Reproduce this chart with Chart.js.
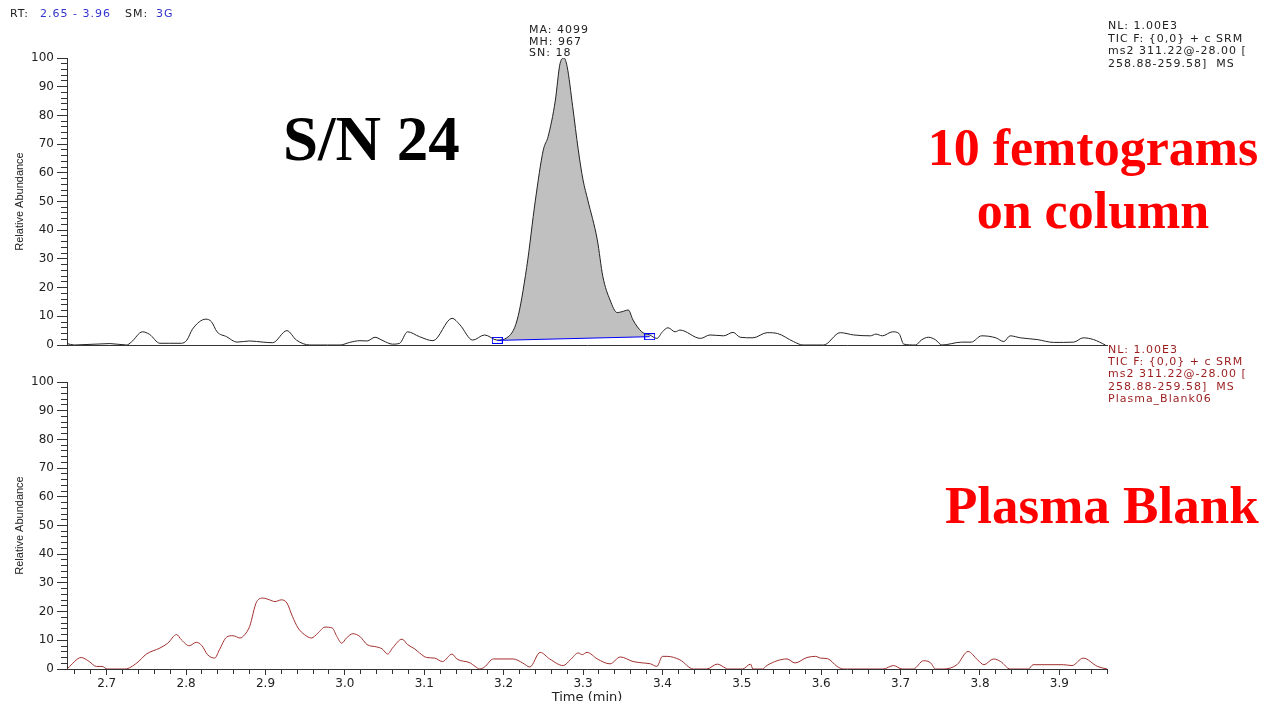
<!DOCTYPE html>
<html>
<head>
<meta charset="utf-8">
<script src="https://cdn.jsdelivr.net/npm/chart.js@4.4.1/dist/chart.umd.min.js"></script>
<style>
  body { margin: 0; width: 1262px; height: 701px; overflow: hidden; background: #fff; position: relative; }
  canvas { position: absolute; left: 0; }
  .small { position: absolute; font: 11px "DejaVu Sans", sans-serif; letter-spacing: 1px; white-space: pre; color: #222; }
  .blue { color: #3333cc; }
  .dred { color: #9a1c1c; }
  .big { position: absolute; font-family: "Liberation Serif", "Times New Roman", serif; font-weight: bold; white-space: pre; }
</style>
</head>
<body>
<canvas id="topChart" width="1262" height="360" style="top:0"></canvas>
<canvas id="botChart" width="1262" height="345" style="top:360px"></canvas>

<div class="small" style="left:10px; top:8px; line-height:12.6px">RT:</div>
<div class="small blue" style="left:40px; top:8px; line-height:12.6px">2.65 - 3.96</div>
<div class="small" style="left:125px; top:8px; line-height:12.6px">SM:</div>
<div class="small blue" style="left:156px; top:8px; line-height:12.6px">3G</div>

<div class="small" style="left:529px; top:24px; line-height:11.5px">MA: 4099
MH: 967
SN: 18</div>

<div class="small" style="left:1108px; top:20px; line-height:12.6px">NL: 1.00E3
TIC F: {0,0} + c SRM
ms2 311.22@-28.00 [
258.88-259.58]  MS</div>

<div class="small dred" style="left:1108px; top:344px; line-height:12.2px">NL: 1.00E3
TIC F: {0,0} + c SRM
ms2 311.22@-28.00 [
258.88-259.58]  MS
Plasma_Blank06</div>

<div class="big" style="left:283px; top:108px; font-size:63px; line-height:63px; color:#000">S/N 24</div>
<div class="big" style="left:893px; width:400px; text-align:center; top:122px; font-size:52px; line-height:52px; color:#ff0000">10 femtograms</div>
<div class="big" style="left:893px; width:400px; text-align:center; top:185px; font-size:52px; line-height:52px; color:#ff0000">on column</div>
<div class="big" style="left:945px; top:479px; font-size:53px; line-height:52px; color:#ff0000">Plasma Blank</div>

<script>
// sample trace: 10 fg on column (time in min, relative abundance %)
const topTime = [
  2.650, 2.659, 2.704, 2.725, 2.731, 2.745, 2.754, 2.767, 2.779, 2.794,
  2.801, 2.808, 2.825, 2.832, 2.839, 2.851, 2.864, 2.880, 2.897, 2.909,
  2.927, 2.939, 2.956, 2.994, 3.006, 3.019, 3.028, 3.038, 3.048, 3.060,
  3.069, 3.079, 3.094, 3.111, 3.135, 3.145, 3.161, 3.176, 3.192, 3.204,
  3.217, 3.229, 3.240, 3.250, 3.256, 3.265, 3.271, 3.276, 3.280, 3.287,
  3.294, 3.300, 3.306, 3.318, 3.325, 3.334, 3.343, 3.349, 3.357, 3.363,
  3.374, 3.384, 3.393, 3.400, 3.407, 3.416, 3.422, 3.448, 3.460, 3.477,
  3.489, 3.498, 3.514, 3.532, 3.545, 3.565, 3.577, 3.603, 3.624, 3.641,
  3.662, 3.669, 3.677, 3.690, 3.698, 3.704, 3.719, 3.726, 3.735, 3.744,
  3.752, 3.777, 3.789, 3.802, 3.820, 3.830, 3.838, 3.851, 3.872, 3.893,
  3.918, 3.930, 3.943, 3.958
];
const topAbund = [
  0.5, 0, 0.5, 0, 1, 4.6, 3.7, 0.6, 0.6, 0.6,
  1.7, 5.5, 9, 8.1, 4.6, 2.9, 1, 1.4, 1, 0.8,
  5, 1.7, 0, 0, 0.9, 1.5, 1.4, 2.7, 1.5, 0.3,
  0.6, 4.6, 2.9, 1.5, 9.3, 7, 1.7, 3.5, 1.7, 2.5,
  8.7, 27, 50.5, 68, 72.6, 85, 98, 100, 97, 83,
  68, 57.5, 50.5, 36.6, 23.8, 15.7, 11.3, 11.6, 12.2, 8.7,
  4.6, 3.5, 2.3, 4.6, 6, 4.6, 5.2, 2.3, 3.5, 3.2,
  4.4, 2.7, 2.5, 4.3, 4, 1.2, 0, 0, 4.3, 3.5,
  3.2, 3.8, 3.2, 4.6, 4, 0.3, 0, 1.7, 2.7, 1.8,
  0, 1, 1, 3.2, 2.5, 1.2, 3.2, 2.5, 1.9, 0.9,
  1, 2.5, 1.9, 0
];

// integration baseline of the peak
const baseTime = [3.192, 3.384];
const baseAbund = [1.6, 2.9];

// plasma blank trace
const blankTime = [
  2.651, 2.668, 2.678, 2.687, 2.694, 2.701, 2.723, 2.738, 2.750, 2.767,
  2.777, 2.788, 2.794, 2.804, 2.813, 2.820, 2.827, 2.836, 2.842, 2.851,
  2.859, 2.868, 2.874, 2.880, 2.889, 2.897, 2.905, 2.912, 2.920, 2.927,
  2.934, 2.941, 2.949, 2.958, 2.966, 2.975, 2.984, 2.990, 2.996, 3.002,
  3.010, 3.019, 3.028, 3.040, 3.047, 3.054, 3.060, 3.072, 3.079, 3.088,
  3.094, 3.103, 3.113, 3.123, 3.135, 3.141, 3.158, 3.164, 3.170, 3.176,
  3.187, 3.212, 3.224, 3.233, 3.246, 3.258, 3.275, 3.284, 3.294, 3.299,
  3.305, 3.318, 3.334, 3.347, 3.363, 3.376, 3.385, 3.393, 3.400, 3.406,
  3.422, 3.439, 3.456, 3.469, 3.479, 3.482, 3.501, 3.511, 3.514, 3.526,
  3.532, 3.557, 3.567, 3.582, 3.593, 3.599, 3.608, 3.620, 3.628, 3.678,
  3.691, 3.702, 3.716, 3.729, 3.738, 3.744, 3.754, 3.771, 3.785, 3.797,
  3.805, 3.817, 3.826, 3.838, 3.861, 3.867, 3.905, 3.916, 3.930, 3.948,
  3.960
];
const blankAbund = [
  0.3, 4, 2.6, 0.9, 0.9, 0, 0, 2.1, 5.2, 7.3,
  9, 12, 10.2, 8.1, 9.3, 8.1, 5, 3.8, 6.7, 11.1,
  11.6, 10.8, 12, 14.8, 23.5, 24.7, 24.1, 23.5, 24.1, 23,
  18.3, 14.3, 12, 10.8, 12.5, 14.6, 14.3, 11.3, 9, 10.8,
  12.3, 11.3, 8.5, 7.7, 7, 5.2, 7.3, 10.4, 8.5, 7,
  5.6, 4, 3.8, 2.6, 5.2, 3.5, 2.1, 0.9, 0, 0.7,
  3.5, 3.5, 2.1, 0.7, 5.8, 3.5, 1.2, 3.2, 5.6, 5,
  5.8, 3.5, 1.8, 4.2, 2.6, 2.1, 1.8, 0.9, 4.4, 4.4,
  3.2, 0, 0, 1.7, 0.4, 0, 0, 1.7, 0, 0,
  1.3, 3.5, 2.1, 4, 4.4, 3.8, 3.6, 0.9, 0, 0,
  1.2, 0, 0, 2.9, 2.1, 0, 0, 1.5, 6.1, 3.2,
  1.5, 3.5, 2.6, 0, 0, 1.5, 1.5, 1.2, 3.8, 0.9,
  0
];

const xMin = 2.65, xMax = 3.96;

function toPoints(xs, ys) {
  return xs.map((x, i) => ({ x: x, y: ys[i] }));
}

// part of the sample trace inside the integration window
const peakPoints = toPoints(topTime, topAbund).filter(p => p.x >= baseTime[0] && p.x <= baseTime[1]);

// small blue box marker for baseline ends
const boxMark = document.createElement('canvas');
boxMark.width = 11; boxMark.height = 7;
(function () {
  const c = boxMark.getContext('2d');
  c.strokeStyle = '#0000ff';
  c.lineWidth = 1;
  c.strokeRect(0.5, 0.5, 10, 6);
})();

const axisColor = '#333';
const tickFont = { family: 'DejaVu Sans', size: 12 };

function yScale() {
  return {
    type: 'linear',
    min: 0,
    max: 100,
    afterFit: s => { s.width = 67; },
    border: { color: axisColor, width: 1 },
    grid: {
      drawOnChartArea: false,
      tickLength: 10,
      tickColor: axisColor,
      // minor ticks: only the inner 6px of the 10px tick
      tickBorderDash: ctx => (ctx.tick && ctx.tick.value % 10 === 0) ? [] : [6, 4],
      tickBorderDashOffset: ctx => (ctx.tick && ctx.tick.value % 10 === 0) ? 0 : 6
    },
    ticks: {
      stepSize: 2,
      autoSkip: false,
      padding: 3,
      color: '#222',
      font: tickFont,
      callback: v => v % 10 === 0 ? v : ''
    },
    title: {
      display: true,
      text: 'Relative Abundance',
      color: '#222',
      font: { family: '"Liberation Sans Narrow", "Liberation Sans", sans-serif', size: 11 },
      padding: { top: 13, bottom: 0 }
    }
  };
}

const baseOptions = {
  responsive: false,
  animation: false,
  devicePixelRatio: 1,
  events: [],
  plugins: { legend: { display: false }, tooltip: { enabled: false } },
  elements: { point: { radius: 0 } }
};

new Chart(document.getElementById('topChart'), {
  type: 'line',
  data: {
    datasets: [
      {
        data: toPoints(topTime, topAbund),
        borderColor: '#222',
        borderWidth: 1,
        cubicInterpolationMode: 'monotone',
        fill: false,
        order: 1
      },
      {
        data: peakPoints,
        borderColor: 'rgba(0,0,0,0)',
        borderWidth: 0,
        backgroundColor: '#c0c0c0',
        cubicInterpolationMode: 'monotone',
        fill: '+1',
        order: 2
      },
      {
        data: toPoints(baseTime, baseAbund),
        borderColor: '#0000ff',
        borderWidth: 1,
        fill: false,
        pointRadius: 5,
        pointStyle: boxMark,
        order: 0
      }
    ]
  },
  options: Object.assign({}, baseOptions, {
    layout: { padding: { top: 58, right: 155, left: 0, bottom: 0 } },
    scales: {
      x: {
        type: 'linear',
        min: xMin,
        max: xMax,
        afterFit: s => { s.height = 15; },
        border: { color: axisColor, width: 1 },
        grid: { display: false },
        ticks: { display: false }
      },
      y: yScale()
    }
  })
});

new Chart(document.getElementById('botChart'), {
  type: 'line',
  data: {
    datasets: [
      {
        data: toPoints(blankTime, blankAbund),
        borderColor: '#a0302e',
        borderWidth: 1,
        cubicInterpolationMode: 'monotone',
        fill: false
      }
    ]
  },
  options: Object.assign({}, baseOptions, {
    layout: { padding: { top: 22, right: 155, left: 0, bottom: 0 } },
    scales: {
      x: {
        type: 'linear',
        min: xMin,
        max: xMax,
        afterFit: s => { s.height = 36; },
        border: { color: axisColor, width: 1 },
        grid: {
          drawOnChartArea: false,
          tickLength: 6,
          tickColor: axisColor,
          tickBorderDash: ctx => (ctx.tick && Math.abs(ctx.tick.value * 10 - Math.round(ctx.tick.value * 10)) < 1e-6) ? [] : [4, 100]
        },
        ticks: {
          stepSize: 0.02,
          includeBounds: false,
          autoSkip: false,
          maxRotation: 0,
          padding: 2,
          color: '#222',
          font: tickFont,
          callback: v => Math.abs(v * 10 - Math.round(v * 10)) < 1e-6 ? v.toFixed(1) : ''
        },
        title: {
          display: true,
          text: 'Time (min)',
          color: '#222',
          font: { family: 'DejaVu Sans', size: 13 },
          padding: { top: 0, bottom: 0 }
        }
      },
      y: yScale()
    }
  })
});
</script>
</body>
</html>
